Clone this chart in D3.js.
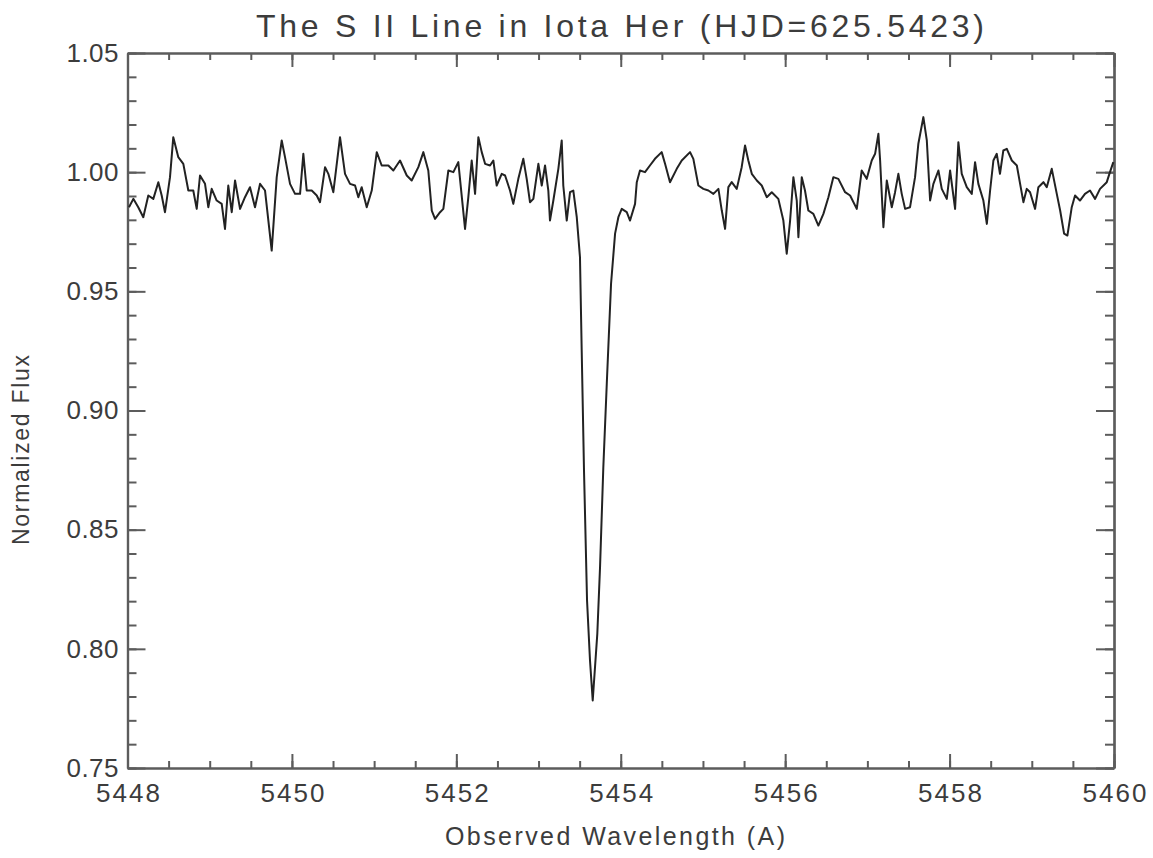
<!DOCTYPE html>
<html>
<head>
<meta charset="utf-8">
<script src="https://cdn.jsdelivr.net/npm/d3@7"></script>
<style>
  body { margin: 0; background: #fff; }
  text { font-family: "Liberation Sans Narrow", "Liberation Sans", "DejaVu Sans", sans-serif; fill: #3c3c3c; }
</style>
</head>
<body>
<script>
// spectrum
const wavelength = [
  5448.018,5448.071,5448.131,5448.192,5448.253,5448.314,5448.375,5448.416,5448.456,5448.517,
  5448.557,5448.618,5448.679,5448.740,5448.800,5448.842,5448.882,5448.943,5448.983,5449.024,
  5449.085,5449.146,5449.186,5449.226,5449.268,5449.308,5449.369,5449.429,5449.490,5449.551,
  5449.612,5449.673,5449.754,5449.815,5449.876,5449.916,5449.977,5450.038,5450.099,5450.139,
  5450.180,5450.241,5450.302,5450.342,5450.403,5450.443,5450.504,5450.585,5450.646,5450.707,
  5450.768,5450.808,5450.849,5450.910,5450.971,5451.032,5451.092,5451.173,5451.234,5451.315,
  5451.397,5451.457,5451.538,5451.599,5451.659,5451.701,5451.741,5451.802,5451.842,5451.903,
  5451.964,5452.024,5452.106,5452.146,5452.187,5452.228,5452.268,5452.309,5452.350,5452.410,
  5452.450,5452.491,5452.552,5452.593,5452.653,5452.693,5452.754,5452.815,5452.856,5452.896,
  5452.937,5452.998,5453.039,5453.079,5453.119,5453.139,5453.180,5453.241,5453.282,5453.301,
  5453.343,5453.383,5453.423,5453.465,5453.504,5453.525,5453.553,5453.590,5453.626,5453.659,
  5453.715,5453.748,5453.788,5453.830,5453.882,5453.931,5453.971,5454.012,5454.073,5454.113,
  5454.174,5454.195,5454.234,5454.295,5454.355,5454.416,5454.498,5454.539,5454.599,5454.681,
  5454.742,5454.843,5454.883,5454.944,5455.005,5455.066,5455.127,5455.188,5455.229,5455.269,
  5455.309,5455.350,5455.411,5455.471,5455.512,5455.552,5455.594,5455.655,5455.715,5455.776,
  5455.837,5455.917,5455.978,5456.019,5456.060,5456.100,5456.141,5456.161,5456.202,5456.241,
  5456.282,5456.343,5456.404,5456.465,5456.526,5456.586,5456.647,5456.729,5456.790,5456.871,
  5456.931,5456.992,5457.053,5457.094,5457.134,5457.155,5457.195,5457.236,5457.297,5457.337,
  5457.377,5457.418,5457.459,5457.519,5457.580,5457.620,5457.681,5457.723,5457.763,5457.803,
  5457.864,5457.905,5457.966,5458.006,5458.067,5458.107,5458.148,5458.209,5458.270,5458.310,
  5458.350,5458.411,5458.453,5458.493,5458.533,5458.574,5458.613,5458.654,5458.696,5458.757,
  5458.818,5458.858,5458.898,5458.939,5458.979,5459.040,5459.080,5459.141,5459.182,5459.243,
  5459.304,5459.345,5459.393,5459.433,5459.486,5459.526,5459.586,5459.647,5459.708,5459.770,
  5459.830,5459.912,5459.951,5459.992
];
const flux = [
  0.9853,0.9888,0.9853,0.9811,0.9902,0.9888,0.9958,0.9902,0.9832,0.9979,
  1.0147,1.0063,1.0035,0.9923,0.9923,0.9846,0.9986,0.9951,0.9853,0.9930,
  0.9881,0.9867,0.9762,0.9944,0.9832,0.9965,0.9846,0.9895,0.9937,0.9853,
  0.9951,0.9923,0.9671,0.9979,1.0133,1.0063,0.9951,0.9909,0.9909,1.0077,
  0.9923,0.9923,0.9902,0.9874,1.0021,0.9993,0.9916,1.0147,0.9993,0.9951,
  0.9944,0.9895,0.9937,0.9853,0.9923,1.0084,1.0028,1.0028,1.0007,1.0049,
  0.9986,0.9965,1.0021,1.0084,1.0007,0.9839,0.9804,0.9832,0.9846,1.0007,
  1.0000,1.0042,0.9762,0.9895,1.0049,0.9909,1.0147,1.0084,1.0035,1.0028,
  1.0049,0.9944,0.9993,0.9986,0.9923,0.9867,0.9972,1.0056,0.9972,0.9874,
  0.9888,1.0035,0.9944,1.0028,0.9923,0.9797,0.9881,1.0014,1.0133,0.9944,
  0.9797,0.9916,0.9923,0.9811,0.9643,0.9252,0.8748,0.8203,0.7951,0.7783,
  0.8064,0.8342,0.8762,0.9112,0.9532,0.9742,0.9811,0.9846,0.9832,0.9797,
  0.9867,0.9958,1.0007,1.0000,1.0028,1.0056,1.0084,1.0035,0.9958,1.0014,
  1.0049,1.0084,1.0056,0.9944,0.9930,0.9923,0.9909,0.9930,0.9839,0.9762,
  0.9937,0.9958,0.9930,1.0021,1.0112,1.0049,0.9993,0.9965,0.9944,0.9895,
  0.9916,0.9888,0.9797,0.9658,0.9797,0.9979,0.9881,0.9727,0.9979,0.9923,
  0.9839,0.9825,0.9776,0.9825,0.9895,0.9979,0.9972,0.9916,0.9902,0.9846,
  1.0007,0.9972,1.0049,1.0077,1.0161,1.0049,0.9769,0.9965,0.9853,0.9916,
  0.9993,0.9909,0.9846,0.9853,0.9979,1.0119,1.0231,1.0133,0.9881,0.9951,
  1.0007,0.9930,0.9888,1.0007,0.9846,1.0126,0.9993,0.9937,0.9909,1.0042,
  0.9951,0.9881,0.9783,0.9923,1.0049,1.0077,0.9993,1.0091,1.0098,1.0049,
  1.0028,0.9951,0.9874,0.9930,0.9916,0.9846,0.9937,0.9958,0.9937,1.0014,
  0.9909,0.9839,0.9742,0.9734,0.9853,0.9902,0.9881,0.9909,0.9923,0.9888,
  0.9930,0.9958,1.0000,1.0042
];

const xTicks = [5448, 5450, 5452, 5454, 5456, 5458, 5460];
const yTicks = [0.75, 0.80, 0.85, 0.90, 0.95, 1.00, 1.05];
const xMinor = d3.range(5448, 5460.01, 0.5);
const yMinor = d3.range(0.75, 1.0501, 0.01);

const titleText = "The S II Line in Iota Her (HJD=625.5423)";
const xLabel = "Observed Wavelength (A)";
const yLabel = "Normalized Flux";

const W = 1153, H = 858;
const L = 127.5, R = 1114, T = 53, B = 768;

const svg = d3.select("body").append("svg").attr("width", W).attr("height", H);

const x = d3.scaleLinear().domain([5448, 5460]).range([L, R]);
const y = d3.scaleLinear().domain([0.75, 1.05]).range([B, T]);

const axisColor = "#5c5c5c";

function styleAxis(g) {
  g.selectAll("path.domain").attr("stroke", axisColor).attr("stroke-width", 2.2);
  g.selectAll(".tick line").attr("stroke", axisColor).attr("stroke-width", 2);
  g.selectAll("text").attr("fill", "#3c3c3c")
    .style("font-family", '"Liberation Sans Narrow", "Liberation Sans", sans-serif');
}

// minor ticks first
svg.append("g").attr("transform", `translate(0,${B})`)
  .call(d3.axisBottom(x).tickValues(xMinor).tickSize(-7).tickSizeOuter(0).tickFormat(""))
  .call(styleAxis);
svg.append("g").attr("transform", `translate(0,${T})`)
  .call(d3.axisTop(x).tickValues(xMinor).tickSize(-7).tickSizeOuter(0).tickFormat(""))
  .call(styleAxis);
svg.append("g").attr("transform", `translate(${L},0)`)
  .call(d3.axisLeft(y).tickValues(yMinor).tickSize(-9).tickSizeOuter(0).tickFormat(""))
  .call(styleAxis);
svg.append("g").attr("transform", `translate(${R},0)`)
  .call(d3.axisRight(y).tickValues(yMinor).tickSize(-9).tickSizeOuter(0).tickFormat(""))
  .call(styleAxis);

// major ticks with labels
const xAxis = svg.append("g").attr("transform", `translate(0,${B})`)
  .call(d3.axisBottom(x).tickValues(xTicks).tickSize(-14).tickSizeOuter(0)
    .tickPadding(16).tickFormat(d3.format("d")))
  .call(styleAxis);
xAxis.selectAll("text").attr("font-size", 26).attr("textLength", 64).attr("lengthAdjust", "spacing");

svg.append("g").attr("transform", `translate(0,${T})`)
  .call(d3.axisTop(x).tickValues(xTicks).tickSize(-14).tickSizeOuter(0).tickFormat(""))
  .call(styleAxis);

const yAxis = svg.append("g").attr("transform", `translate(${L},0)`)
  .call(d3.axisLeft(y).tickValues(yTicks).tickSize(-18).tickSizeOuter(0)
    .tickPadding(9).tickFormat(d3.format(".2f")))
  .call(styleAxis);
yAxis.selectAll("text").attr("font-size", 26).attr("textLength", 52).attr("lengthAdjust", "spacing");

svg.append("g").attr("transform", `translate(${R},0)`)
  .call(d3.axisRight(y).tickValues(yTicks).tickSize(-18).tickSizeOuter(0).tickFormat(""))
  .call(styleAxis);

// spectrum
const pts = wavelength.map((w, i) => [w, flux[i]]);
svg.append("path")
  .datum(pts)
  .attr("fill", "none")
  .attr("stroke", "#222")
  .attr("stroke-width", 2)
  .attr("stroke-linejoin", "round")
  .attr("d", d3.line().x(d => x(d[0])).y(d => y(d[1])));

// titles
svg.append("text")
  .attr("x", 620).attr("y", 37)
  .attr("text-anchor", "middle")
  .attr("font-size", 32)
  .attr("textLength", 728).attr("lengthAdjust", "spacing")
  .text(titleText);

svg.append("text")
  .attr("x", 615).attr("y", 845)
  .attr("text-anchor", "middle")
  .attr("font-size", 25)
  .attr("textLength", 340).attr("lengthAdjust", "spacing")
  .text(xLabel);

svg.append("text")
  .attr("transform", "translate(29,450) rotate(-90)")
  .attr("text-anchor", "middle")
  .attr("font-size", 23)
  .attr("textLength", 190).attr("lengthAdjust", "spacing")
  .text(yLabel);
</script>
</body>
</html>
